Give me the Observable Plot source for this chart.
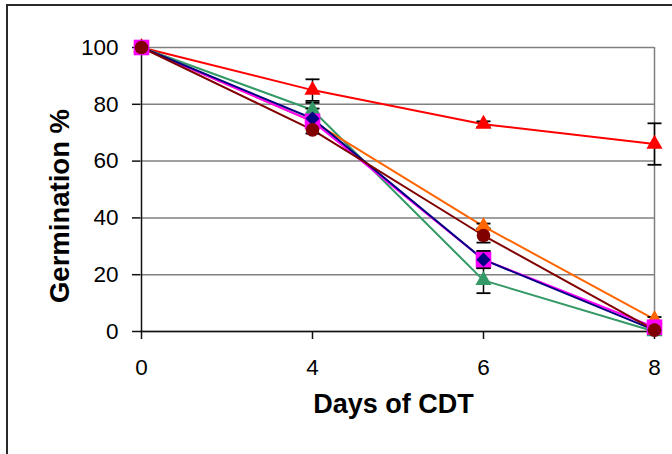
<!DOCTYPE html>
<html><head><meta charset="utf-8">
<script src="https://cdn.jsdelivr.net/npm/d3@7"></script>
<script src="https://cdn.jsdelivr.net/npm/@observablehq/plot@0.6"></script>
<style>
body{margin:0;background:#fff;overflow:hidden;font-family:Arial,"Liberation Sans",sans-serif}
#wrap{position:relative;width:672px;height:454px;overflow:hidden}
#frame{position:absolute;left:6px;top:4px;width:700px;height:500px;border-left:2px solid #2a2a2a;border-top:2px solid #2a2a2a;pointer-events:none}
</style></head><body><div id="wrap"><div id="chart"></div><div id="frame"></div></div>
<script>
const days = ["0", "4", "6", "8"];
const yTicks = [0, 20, 40, 60, 80, 100];
const xTitle = "Days of CDT";
const yTitle = "Germination %";

const seriesNames = ["red", "green", "orange", "magenta", "navy", "darkred"];
const seriesColors = ["#FF0000", "#339966", "#FF6600", "#FF00FF", "#000080", "#800000"];
const seriesSymbols = ["triangle", "triangle", "triangle", "square", "diamond2", "circle"];
const seriesR = [6, 6, 6, 8.8, 6.4, 6.8];

const redValues = [100, 85, 73, 66];
const redErr = [0, 3.8, 1, 7.3];
const greenValues = [100, 78, 18, 0];
const greenErr = [0, 2.5, 4.5, 0];
const orangeValues = [100, 74, 37, 4.3];
const orangeErr = [0, 1, 1, 0.8];
const magentaValues = [100, 74, 25.3, 1.5];
const magentaErr = [0, 1, 3, 0];
const navyValues = [100, 75, 25.3, 0.5];
const navyErr = [0, 3.5, 3, 0];
const darkredValues = [100, 71, 33.8, 0.5];
const darkredErr = [0, 1.3, 2.5, 0];

const allValues = [redValues, greenValues, orangeValues, magentaValues, navyValues, darkredValues];
const allErr = [redErr, greenErr, orangeErr, magentaErr, navyErr, darkredErr];

const rows = [];
seriesNames.forEach((s, si) => {
  days.forEach((d, di) => {
    rows.push({series: s, si, day: d, value: allValues[si][di], err: allErr[si][di]});
  });
});
const errRows = rows.filter(r => r.err > 0);
const capRows = errRows.flatMap(r => [{day: r.day, y: r.value - r.err}, {day: r.day, y: r.value + r.err}]);

const capSymbol = {draw(ctx) { ctx.moveTo(-7, 0); ctx.lineTo(7, 0); }};

const lineOrder = [0, 1, 2, 3, 4, 5];
const dotOrder = [1, 2, 0, 3, 4, 5];

const marks = [
  Plot.gridY(yTicks, {y: d => d, stroke: "#808080", strokeOpacity: 1, strokeWidth: 1.5}),
  Plot.ruleX([days[days.length - 1]], {x: d => d, y1: 0, y2: 100, stroke: "#808080", strokeWidth: 1.5}),
  Plot.axisY(yTicks, {tickSize: 8, tickPadding: 14, fontSize: 22.5, label: null, stroke: "#111", strokeWidth: 1.5}),
  Plot.axisX(days, {tickSize: 8, tickPadding: 20, fontSize: 22.5, label: null, stroke: "#111", strokeWidth: 1.5}),
  Plot.ruleX([days[0]], {x: d => d, y1: 0, y2: 100, stroke: "#111", strokeWidth: 1.5}),
  Plot.ruleY([0], {stroke: "#111", strokeWidth: 1.5}),
];
for (const si of lineOrder) {
  marks.push(Plot.line(rows.filter(r => r.si === si), {x: "day", y: "value", stroke: seriesColors[si], strokeWidth: 2}));
}
marks.push(Plot.ruleX(errRows, {x: "day", y1: r => r.value - r.err, y2: r => r.value + r.err, stroke: "black", strokeWidth: 1.5}));
marks.push(Plot.dot(capRows, {x: "day", y: "y", symbol: capSymbol, r: 5, stroke: "black", strokeWidth: 1.8, fill: "none"}));
for (const si of dotOrder) {
  marks.push(Plot.dot(rows.filter(r => r.si === si), {x: "day", y: "value", symbol: seriesSymbols[si], r: seriesR[si], fill: seriesColors[si], stroke: "none"}));
}
marks.push(Plot.text([yTitle], {text: d => d, frameAnchor: "left", rotate: -90, dx: -80, dy: 16.5, fontSize: 27.5, fontWeight: "bold", textAnchor: "middle"}));
marks.push(Plot.text([xTitle], {text: d => d, frameAnchor: "bottom", dx: -4, dy: 81, fontSize: 27, fontWeight: "bold", textAnchor: "middle"}));

const chart = Plot.plot({
  width: 672,
  height: 454,
  marginLeft: 140,
  marginRight: 18,
  marginTop: 47,
  marginBottom: 123,
  style: {fontFamily: "Arial, 'Liberation Sans', sans-serif", color: "#000", background: "#fff", overflow: "visible"},
  x: {type: "point", domain: days, padding: 0},
  y: {domain: [0, 100]},
  marks
});
document.getElementById("chart").appendChild(chart);
</script>
</body></html>
